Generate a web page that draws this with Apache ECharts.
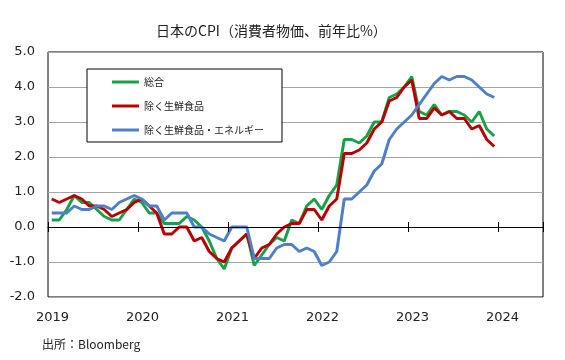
<!DOCTYPE html>
<html><head><meta charset="utf-8">
<script src="https://cdn.jsdelivr.net/npm/echarts@6/dist/echarts.min.js"></script>
<style>html,body{margin:0;padding:0;background:#fff}#c{width:565px;height:360px}</style>
</head><body><div id="c"></div>
<script>
// months Jan 2019 .. Dec 2023
var months = [];
for (var yy = 2019; yy <= 2023; yy++) for (var mm = 1; mm <= 12; mm++) months.push(yy + '-' + (mm < 10 ? '0' + mm : mm));
var tickLabels = ['2019', '2020', '2021', '2022', '2023', '2024'];
var names = ['総合', '除く生鮮食品', '除く生鮮食品・エネルギー'];
var headline = [0.2,0.2,0.5,0.9,0.7,0.7,0.5,0.3,0.2,0.2,0.5,0.8,
  0.7,0.4,0.4,0.1,0.1,0.1,0.3,0.2,0.0,-0.4,-0.9,-1.2,
  -0.6,-0.4,-0.2,-1.1,-0.8,-0.5,-0.3,-0.4,0.2,0.1,0.6,0.8,
  0.5,0.9,1.2,2.5,2.5,2.4,2.6,3.0,3.0,3.7,3.8,4.0,
  4.3,3.3,3.2,3.5,3.2,3.3,3.3,3.2,3.0,3.3,2.8,2.6];
var core = [0.8,0.7,0.8,0.9,0.8,0.6,0.6,0.5,0.3,0.4,0.5,0.7,
  0.8,0.6,0.4,-0.2,-0.2,0.0,0.0,-0.4,-0.3,-0.7,-0.9,-1.0,
  -0.6,-0.4,-0.2,-0.9,-0.6,-0.5,-0.2,0.0,0.1,0.1,0.5,0.5,
  0.2,0.6,0.8,2.1,2.1,2.2,2.4,2.8,3.0,3.6,3.7,4.0,
  4.2,3.1,3.1,3.4,3.2,3.3,3.1,3.1,2.8,2.9,2.5,2.3];
var coreCore = [0.4,0.4,0.4,0.6,0.5,0.5,0.6,0.6,0.5,0.7,0.8,0.9,
  0.8,0.6,0.6,0.2,0.4,0.4,0.4,0.0,0.0,-0.2,-0.3,-0.4,
  0.0,0.0,0.0,-0.9,-0.9,-0.9,-0.6,-0.5,-0.5,-0.7,-0.6,-0.7,
  -1.1,-1.0,-0.7,0.8,0.8,1.0,1.2,1.6,1.8,2.5,2.8,3.0,
  3.2,3.5,3.8,4.1,4.3,4.2,4.3,4.3,4.2,4.0,3.8,3.7];
var colors = ['#18a14a', '#b80000', '#4f7fc8'];

function pairs(vals) {
  return vals.map(function (v, i) {
    var p = months[i].split('-');
    var idx = (parseInt(p[0]) - 2019) * 12 + parseInt(p[1]) - 1;
    return [idx + 0.5, v];
  });
}
function ax(base, extra) { var o = JSON.parse(JSON.stringify(base)); for (var k in extra) o[k] = extra[k]; return o; }
var baseX = { type: 'value', min: 0, max: 66, interval: 12, gridIndex: 0, splitLine: { show: false } };
var baseY = { type: 'value', min: -2, max: 5, interval: 1, gridIndex: 0 };

var chart = echarts.init(document.getElementById('c'), null, { renderer: 'canvas' });
var series = [headline, core, coreCore].map(function (d, i) {
  return { name: names[i], type: 'line', data: pairs(d), xAxisIndex: 0, yAxisIndex: 0,
    symbol: 'none', lineStyle: { width: 3, color: colors[i] }, itemStyle: { color: colors[i] },
    emphasis: { disabled: true }, animation: false, z: 3 + i };
});
chart.setOption({
  animation: false,
  title: { text: '日本のCPI（消費者物価、前年比%）', left: 151, top: 19,
    textStyle: { fontFamily: 'Noto Sans CJK JP', fontSize: 14, fontWeight: 'normal', color: '#222' } },
  grid: { left: 48, right: 22, top: 52, bottom: 63, show: true, borderColor: '#000', borderWidth: 1, backgroundColor: 'transparent' },
  legend: { orient: 'vertical', left: 87, top: 69, padding: [6, 18, 5, 25], itemGap: 10,
    itemWidth: 27, itemHeight: 3, icon: 'rect', borderColor: '#000', borderWidth: 1, backgroundColor: '#fff',
    textStyle: { fontFamily: 'Noto Sans CJK JP', fontSize: 10, lineHeight: 14, color: '#222' },
    data: names },
  xAxis: [
    ax(baseX, { position: 'bottom', axisLine: { show: false, onZero: false }, axisTick: { show: false },
      axisLabel: { margin: 14, fontFamily: 'DejaVu Sans', fontSize: 13, color: '#222', padding: [0, 0, 0, 9],
        formatter: function (v) { return tickLabels[Math.round(v / 12)]; } } }),
    ax(baseX, { position: 'bottom', axisLine: { show: true, onZero: true, onZeroAxisIndex: 0, lineStyle: { color: '#000', width: 1 } },
      axisTick: { show: true, length: 5, lineStyle: { color: '#000', width: 1 } }, axisLabel: { show: false }, z: 10 }),
    ax(baseX, { position: 'top', axisLine: { show: false, onZero: true, onZeroAxisIndex: 1 },
      axisTick: { show: true, inside: false, length: 5, lineStyle: { color: '#000', width: 1 } }, axisLabel: { show: false }, z: 10 })
  ],
  yAxis: [
    ax(baseY, { axisLine: { show: false, onZero: false }, axisTick: { show: false },
      axisLabel: { margin: 13, fontFamily: 'DejaVu Sans', fontSize: 13, color: '#222', formatter: function (v) { return v.toFixed(1); } },
      splitLine: { lineStyle: { color: '#a6a6a6', width: 1 } } }),
    ax(baseY, { position: 'right', axisLine: { show: false, onZero: false }, axisTick: { show: false },
      axisLabel: { show: false }, splitLine: { show: false } })
  ],
  graphic: [{ type: 'text', left: 42, top: 338,
    style: { text: '出所：Bloomberg', font: '12px "Noto Sans CJK JP"', fill: '#222' } }],
  series: series
});
</script></body></html>
